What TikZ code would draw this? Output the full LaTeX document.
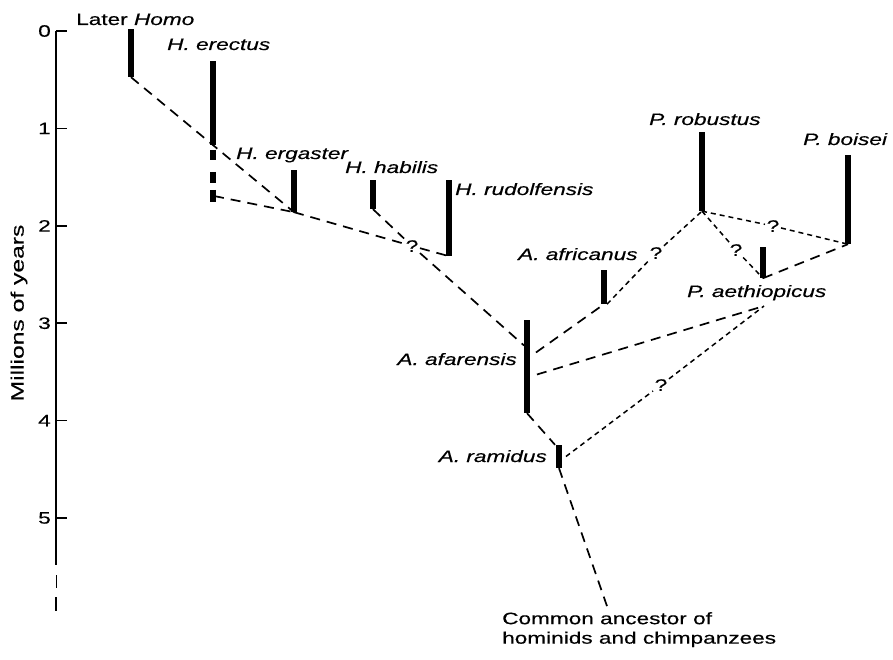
\documentclass[tikz,border=0pt]{standalone}
\usepackage{fontspec}
\setmainfont[FakeStretch=1.37,FakeBold=0.4]{Liberation Sans}

\begin{document}
\begin{tikzpicture}[x=1pt,y=-1pt,
	font=\fontsize{16.5}{19.5}\selectfont,
	bar/.style={rectangle,fill=black,draw=none,inner sep=0pt,minimum width=5.5pt},
	lineage/.style={line width=1.7pt,dash pattern=on 10pt off 7pt},
	guess/.style={line width=1.5pt,dash pattern=on 5pt off 4pt},
	axis/.style={line width=1.5pt},
	qm/.style={inner sep=1.5pt},
	lbl/.style={inner sep=0pt}]
		\useasboundingbox (0,0) rectangle (893,660);

		% time axis
		\draw[axis] (56,31) -- (56,565);
		\draw[line width=0.8pt] (56,575) -- (56,588);
		\draw[axis] (56,597) -- (56,611);
		\foreach \t in {0,...,5} {
			\draw[axis] (56,{31+97.4*\t}) -- ++(11,0);
			\node[anchor=east,inner sep=0pt] (tick\t) at (51,{31+97.4*\t}) {\t};
		}
		\node[rotate=90,font=\fontsize{18}{20}\selectfont] (ylab) at (19,313) {Millions of years};

		% fossil ranges
		\foreach \n/\x/\t/\b [evaluate=\b as \h using \b-\t] in
			{lh/131/29/77, ere/213/61/145, erg/294/170/212, hab/373/180/209,
			 rud/449/180/256, afr/604/270/304, afa/527/320/413, ram/559/445/468,
			 rob/702/132/211, aet/763/247/278, boi/848/155/244}
			\node[bar,minimum height=\h pt] (\n) at (\x,{(\t+\b)/2}) {};
		\draw[line width=5.5pt,dash pattern=on 10pt off 12pt on 11pt off 7pt on 12pt] (213,150) -- (213,202);
		\coordinate (ereb) at (214,196);
		\coordinate (pa) at (764,306);

		% names
		\node[lbl,anchor=base west] (lhl) at (76,25) {Later \textit{Homo}};
		\node[lbl,anchor=base west] (erel) at (167,50) {\textit{H. erectus}};
		\node[lbl,anchor=base west] (ergl) at (236,159) {\textit{H. ergaster}};
		\node[lbl,anchor=base west] (habl) at (345,173) {\textit{H. habilis}};
		\node[lbl,anchor=base west] (rudl) at (455,195) {\textit{H. rudolfensis}};
		\node[lbl,anchor=base west] (afrl) at (518,260) {\textit{A. africanus}};
		\node[lbl,anchor=base west] (robl) at (649,125) {\textit{P. robustus}};
		\node[lbl,anchor=base west] (boil) at (803,145) {\textit{P. boisei}};
		\node[lbl,anchor=base west] (aetl) at (687,297) {\textit{P. aethiopicus}};
		\node[lbl,anchor=base east] (afal) at (517,365) {\textit{A. afarensis}};
		\node[lbl,anchor=base east] (raml) at (547,462) {\textit{A. ramidus}};
		\node[lbl,anchor=north west,align=left] (anc) at (502,612) {Common ancestor of\\hominids and chimpanzees};

		% question marks
		\node[qm] (q1) at (412,246) {?};
		\node[qm] (q2) at (656,253) {?};
		\node[qm] (q3) at (773,226) {?};
		\node[qm] (q4) at (736,250) {?};
		\node[qm] (q5) at (661,385) {?};

		% links
		\draw[lineage] (lh.south) -- (erg.south);
		\draw[lineage] (ereb) -- (erg.south);
		\draw[lineage] (erg.south) -- (q1) -- (rud.south);
		\draw[lineage] (hab.south) -- (q1) -- ([yshift=21pt]afa.west);
		\draw[lineage] ([xshift=6pt,yshift=14pt]afa.east) -- (afr.south);
		\draw[lineage] ([xshift=7pt,yshift=-8pt]afa.east) -- (pa);
		\draw[lineage] (afa.south) -- ([xshift=-4pt]ram.north);
		\draw[lineage] (ram.south) -- ([xshift=106pt,yshift=3pt]anc.north west);
		\draw[lineage] (aet.south) -- (boi.south);
		\draw[guess] ([xshift=3pt]afr.south) -- (q2) -- (rob.south);
		\draw[guess] (rob.south) -- (q3) -- (boi.south);
		\draw[guess] (rob.south) -- (q4) -- (aet.south);
		\draw[guess] ([xshift=4pt]ram.east) -- (q5) -- (pa);
\end{tikzpicture}
\end{document}
